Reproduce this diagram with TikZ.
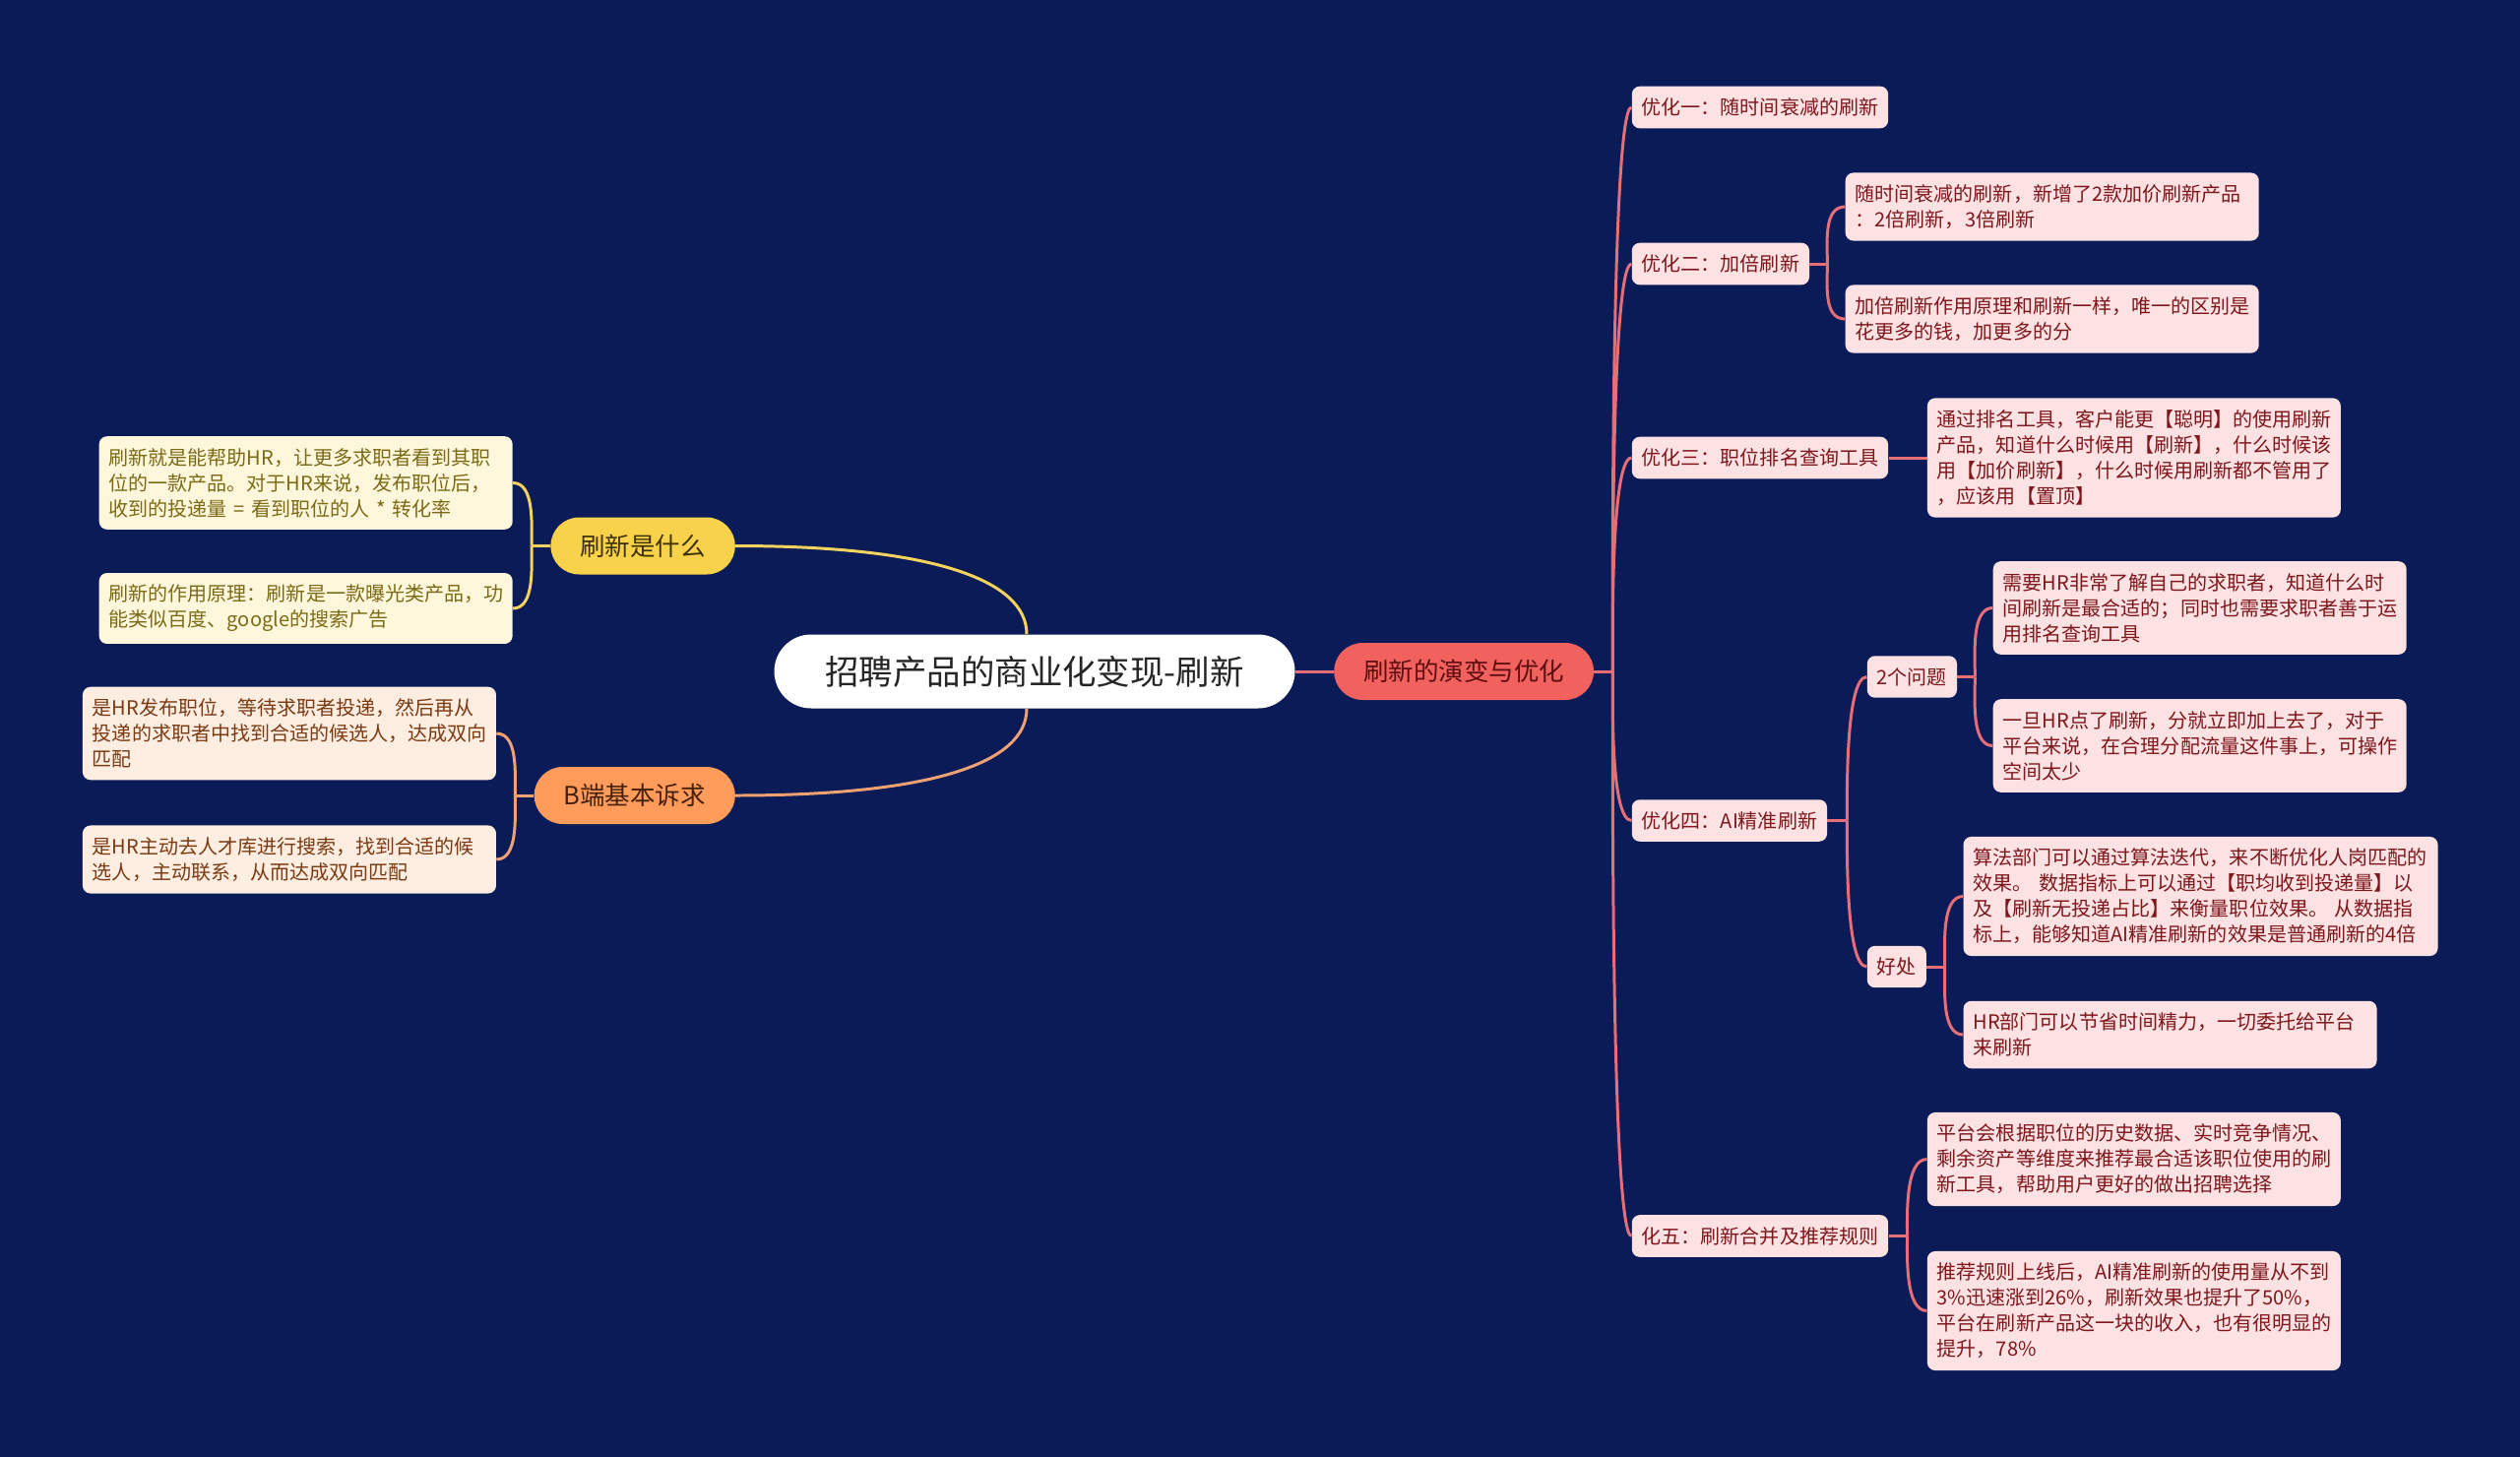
\documentclass[tikz,border=0pt]{standalone}
\usepackage{fontspec}
\setmainfont{Noto Sans CJK SC}
\usetikzlibrary{positioning,calc}
\definecolor{navy}{HTML}{0B1B57}
\definecolor{gold}{HTML}{F8D24B}
\definecolor{goldtx}{HTML}{3E3106}
\definecolor{goldln}{HTML}{F3D35E}
\definecolor{goldbg}{HTML}{FEF7DB}
\definecolor{goldlf}{HTML}{7C6A17}
\definecolor{apricot}{HTML}{FF9B5B}
\definecolor{apricottx}{HTML}{45210A}
\definecolor{apricotln}{HTML}{EFA171}
\definecolor{apricotbg}{HTML}{FEEEE2}
\definecolor{apricotlf}{HTML}{7B3A12}
\definecolor{coral}{HTML}{F1625F}
\definecolor{coraltx}{HTML}{5E0E10}
\definecolor{coralln}{HTML}{E66F77}
\definecolor{rosa}{HTML}{FDE2E3}
\definecolor{vino}{HTML}{7E171C}

\begin{document}
\begin{tikzpicture}[
      hub/.style={fill=white, rounded corners=0.75cm, minimum width=10.58cm, minimum height=1.5cm,
                  text=black!85, font=\fontsize{19.6}{24}\selectfont},
      br/.style={rounded corners=0.58cm, minimum height=1.16cm, inner xsep=0.6cm,
                 font=\fontsize{14.5}{18}\selectfont},
      sb/.style={fill=rosa, text=vino, rounded corners=0.16cm, inner xsep=0.2cm, inner ysep=0.24cm,
                 font=\fontsize{11.4}{14.8}\selectfont},
      lf/.style={rounded corners=0.16cm, inner xsep=0.2cm, inner ysep=0.24cm, text width=8cm,
                 align=left, font=\fontsize{11.4}{14.8}\selectfont},
      wire/.style={line width=1.7pt}]
    \useasboundingbox (0,0) rectangle (51.2,-29.58);
    \fill[navy] (-0.1,0.1) rectangle (51.3,-29.7);

    \node[hub] (root) at (21.02,-13.64) {招聘产品的商业化变现-刷新};
    \node[br, fill=gold, text=goldtx, left=0.78cm of root, yshift=2.55cm] (what) {刷新是什么};
    \node[br, fill=apricot, text=apricottx, left=0.78cm of root, yshift=-2.52cm] (need) {B端基本诉求};
    \node[br, fill=coral, text=coraltx, right=0.78cm of root] (evo) {刷新的演变与优化};

    % left side
    \node[lf, fill=goldbg, text=goldlf, left=0.76cm of what, yshift=1.28cm] (what1)
      {刷新就是能帮助HR，让更多求职者看到其职\\位的一款产品。对于HR来说，发布职位后，\\收到的投递量 = 看到职位的人 * 转化率};
    \node[lf, fill=goldbg, text=goldlf, left=0.76cm of what, yshift=-1.27cm] (what2)
      {刷新的作用原理：刷新是一款曝光类产品，功\\能类似百度、google的搜索广告};
    \node[lf, fill=apricotbg, text=apricotlf, left=0.76cm of need, yshift=1.26cm] (need1)
      {是HR发布职位，等待求职者投递，然后再从\\投递的求职者中找到合适的候选人，达成双向\\匹配};
    \node[lf, fill=apricotbg, text=apricotlf, left=0.76cm of need, yshift=-1.30cm] (need2)
      {是HR主动去人才库进行搜索，找到合适的候\\选人，主动联系，从而达成双向匹配};

    % right side
    \node[sb, right=0.76cm of evo, yshift=11.46cm] (o1) {优化一：随时间衰减的刷新};
    \node[sb, right=0.76cm of evo, yshift=8.28cm] (o2) {优化二：加倍刷新};
    \node[sb, right=0.76cm of evo, yshift=4.34cm] (o3) {优化三：职位排名查询工具};
    \node[sb, right=0.76cm of evo, yshift=-3.03cm] (o4) {优化四：AI精准刷新};
    \node[sb, right=0.76cm of evo, yshift=-11.47cm] (o5) {化五：刷新合并及推荐规则};

    \node[lf, fill=rosa, text=vino, right=0.72cm of o2, yshift=1.16cm] (o2a)
      {随时间衰减的刷新，新增了2款加价刷新产品\\：2倍刷新，3倍刷新};
    \node[lf, fill=rosa, text=vino, right=0.72cm of o2, yshift=-1.12cm] (o2b)
      {加倍刷新作用原理和刷新一样，唯一的区别是\\花更多的钱，加更多的分};
    \node[lf, fill=rosa, text=vino, right=0.78cm of o3] (o3a)
      {通过排名工具，客户能更【聪明】的使用刷新\\产品，知道什么时候用【刷新】，什么时候该\\用【加价刷新】，什么时候用刷新都不管用了\\，应该用【置顶】};

    \node[sb, right=0.8cm of o4, yshift=2.92cm] (q) {2个问题};
    \node[sb, right=0.8cm of o4, yshift=-2.97cm] (gain) {好处};
    \node[lf, fill=rosa, text=vino, right=0.72cm of q, yshift=1.4cm] (qa)
      {需要HR非常了解自己的求职者，知道什么时\\间刷新是最合适的；同时也需要求职者善于运\\用排名查询工具};
    \node[lf, fill=rosa, text=vino, right=0.72cm of q, yshift=-1.4cm] (qb)
      {一旦HR点了刷新，分就立即加上去了，对于\\平台来说，在合理分配流量这件事上，可操作\\空间太少};
    \node[lf, fill=rosa, text=vino, text width=9.24cm, right=0.74cm of gain, yshift=1.43cm] (ga)
      {算法部门可以通过算法迭代，来不断优化人岗匹配的\\效果。 数据指标上可以通过【职均收到投递量】以\\及【刷新无投递占比】来衡量职位效果。 从数据指\\标上，能够知道AI精准刷新的效果是普通刷新的4倍};
    \node[lf, fill=rosa, text=vino, right=0.74cm of gain, yshift=-1.38cm] (gb)
      {HR部门可以节省时间精力，一切委托给平台\\来刷新};

    \node[lf, fill=rosa, text=vino, right=0.78cm of o5, yshift=1.56cm] (o5a)
      {平台会根据职位的历史数据、实时竞争情况、\\剩余资产等维度来推荐最合适该职位使用的刷\\新工具，帮助用户更好的做出招聘选择};
    \node[lf, fill=rosa, text=vino, right=0.78cm of o5, yshift=-1.52cm] (o5b)
      {推荐规则上线后，AI精准刷新的使用量从不到\\3\%迅速涨到26\%，刷新效果也提升了50\%，\\平台在刷新产品这一块的收入，也有很明显的\\提升，78\%};

    % connectors from the centre
    \draw[wire, goldln] ([xshift=-0.16cm]root.north) .. controls +(0,1.1) and +(4,0) .. (what.east);
    \draw[wire, apricotln] ([xshift=-0.16cm]root.south) .. controls +(0,-1.1) and +(4,0) .. (need.east);
    \draw[wire, coralln] (root) -- (evo);

    % left brackets
    \draw[wire, goldln] (what.west) -- ++(-0.38,0) coordinate (wj);
    \draw[wire, goldln] (wj) .. controls +(0,0.44) and +(0.44,0) .. (what1.east);
    \draw[wire, goldln] (wj) .. controls +(0,-0.44) and +(0.44,0) .. (what2.east);
    \draw[wire, apricotln] (need.west) -- ++(-0.38,0) coordinate (nj);
    \draw[wire, apricotln] (nj) .. controls +(0,0.44) and +(0.44,0) .. (need1.east);
    \draw[wire, apricotln] (nj) .. controls +(0,-0.44) and +(0.44,0) .. (need2.east);

    % right spine
    \draw[wire, coralln] (evo.east) -- ++(0.38,0) coordinate (ej);
    \draw[wire, coralln] (ej) .. controls +(0,0.44) and +(-0.44,0) .. (o1.west);
    \draw[wire, coralln] (ej) .. controls +(0,0.44) and +(-0.44,0) .. (o2.west);
    \draw[wire, coralln] (ej) .. controls +(0,0.44) and +(-0.44,0) .. (o3.west);
    \draw[wire, coralln] (ej) .. controls +(0,-0.44) and +(-0.44,0) .. (o4.west);
    \draw[wire, coralln] (ej) .. controls +(0,-0.44) and +(-0.44,0) .. (o5.west);

    \draw[wire, coralln] (o2.east) -- ++(0.36,0) coordinate (o2j);
    \draw[wire, coralln] (o2j) .. controls +(0,0.44) and +(-0.44,0) .. (o2a.west);
    \draw[wire, coralln] (o2j) .. controls +(0,-0.44) and +(-0.44,0) .. (o2b.west);
    \draw[wire, coralln] (o3) -- (o3a);

    \draw[wire, coralln] (o4.east) -- ++(0.4,0) coordinate (o4j);
    \draw[wire, coralln] (o4j) .. controls +(0,0.44) and +(-0.44,0) .. (q.west);
    \draw[wire, coralln] (o4j) .. controls +(0,-0.44) and +(-0.44,0) .. (gain.west);
    \draw[wire, coralln] (q.east) -- ++(0.36,0) coordinate (qj);
    \draw[wire, coralln] (qj) .. controls +(0,0.44) and +(-0.44,0) .. (qa.west);
    \draw[wire, coralln] (qj) .. controls +(0,-0.44) and +(-0.44,0) .. (qb.west);
    \draw[wire, coralln] (gain.east) -- ++(0.37,0) coordinate (gj);
    \draw[wire, coralln] (gj) .. controls +(0,0.44) and +(-0.44,0) .. (ga.west);
    \draw[wire, coralln] (gj) .. controls +(0,-0.44) and +(-0.44,0) .. (gb.west);

    \draw[wire, coralln] (o5.east) -- ++(0.38,0) coordinate (o5j);
    \draw[wire, coralln] (o5j) .. controls +(0,0.44) and +(-0.44,0) .. (o5a.west);
    \draw[wire, coralln] (o5j) .. controls +(0,-0.44) and +(-0.44,0) .. (o5b.west);
  \end{tikzpicture}
\end{document}
